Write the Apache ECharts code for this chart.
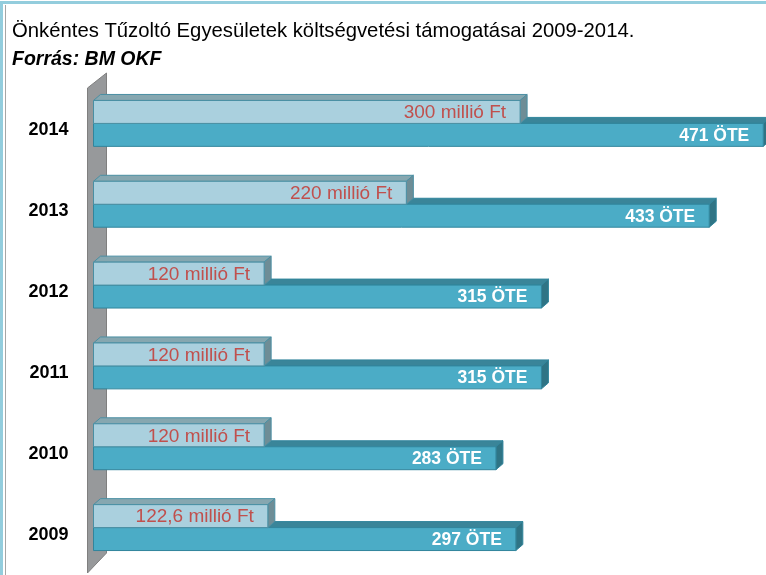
<!DOCTYPE html>
<html>
<head>
<meta charset="utf-8">
<script src="https://cdn.jsdelivr.net/npm/echarts@6/dist/echarts.min.js"></script>
<style>
  html, body { margin: 0; padding: 0; background: #fff; }
  #chart { width: 766px; height: 575px; }
</style>
</head>
<body>
<div id="chart"></div>
<script>
// évek (alulról felfelé)
const years = ['2009', '2010', '2011', '2012', '2013', '2014'];
// ÖTE-k száma
const oteCounts = [297, 283, 315, 315, 433, 471];
// támogatás, millió Ft
const supportMillions = [122.6, 120, 120, 120, 220, 300];

const FONT = "'Liberation Sans', Arial, sans-serif";

// 3D-s hasáb rajzolása (elülső lap + tető + oldal)
function makeBarRenderer(kind) {
    const st = kind === 'light'
        ? { front: '#aad0de', top: '#86a7b0', side: '#6e8d96', stroke: '#4a8fa3',
            color: '#c0504d', weight: 'normal', size: 19 }
        : { front: '#4bacc6', top: '#3a8599', side: '#2f7485', stroke: '#31859c',
            color: '#ffffff', weight: 'bold', size: 17.5 };
    return function (params, api) {
        const val = api.value(0);
        const cat = api.value(1);
        const end = api.coord([val, cat]);
        const start = api.coord([0, cat]);
        const band = api.size([0, 1])[1];
        const h = band * 0.284;
        const dx = 7, dy = 6;
        const x0 = start[0], x1 = end[0];
        const y0 = kind === 'light' ? end[1] - h : end[1];
        const label = kind === 'light'
            ? String(val).replace('.', ',') + ' millió Ft'
            : val + ' ÖTE';
        return {
            type: 'group',
            children: [
                {
                    type: 'polygon',
                    shape: { points: [[x0, y0], [x0 + dx, y0 - dy], [x1 + dx, y0 - dy], [x1, y0]] },
                    style: { fill: st.top, stroke: st.stroke, lineWidth: 1 }
                },
                {
                    type: 'polygon',
                    shape: { points: [[x1, y0], [x1 + dx, y0 - dy], [x1 + dx, y0 + h - dy], [x1, y0 + h]] },
                    style: { fill: st.side, stroke: st.stroke, lineWidth: 1 }
                },
                {
                    type: 'rect',
                    shape: { x: x0, y: y0, width: x1 - x0, height: h },
                    style: { fill: st.front, stroke: st.stroke, lineWidth: 1 }
                },
                {
                    type: 'text',
                    style: {
                        x: x1 - 14,
                        y: y0 + h / 2 + 1,
                        text: label,
                        align: 'right',
                        verticalAlign: 'middle',
                        fill: st.color,
                        fontFamily: FONT,
                        fontSize: st.size,
                        fontWeight: st.weight
                    }
                }
            ]
        };
    };
}

// szürke fal a tengely mögött
function renderWall(params, api) {
    const cs = params.coordSys;
    const ox = api.coord([0, 0])[0];
    const l = ox - 6, r = ox + 13;
    const top = cs.y, bottom = cs.y + cs.height;
    return {
        type: 'polygon',
        shape: { points: [[l, top + 5], [r, top - 10], [r, bottom - 15], [l, bottom + 5]] },
        style: { fill: '#97999b', stroke: '#7f7f7f', lineWidth: 1 }
    };
}

const chart = echarts.init(document.getElementById('chart'));

const option = {
    animation: false,
    backgroundColor: '#ffffff',
    title: [
        {
            text: 'Önkéntes Tűzoltó Egyesületek költségvetési támogatásai 2009-2014.',
            left: 7,
            top: 16,
            textStyle: { fontFamily: FONT, fontSize: 20.3, fontWeight: 'normal', color: '#000' }
        },
        {
            text: 'Forrás: BM OKF',
            left: 7,
            top: 45,
            textStyle: { fontFamily: FONT, fontSize: 19.5, fontWeight: 'bold', fontStyle: 'italic', color: '#000' }
        }
    ],
    graphic: [
        {
            type: 'rect',
            shape: { x: 1.5, y: 2.5, width: 900, height: 900 },
            style: { fill: 'none', stroke: '#93cddd', lineWidth: 3 },
            silent: true
        },
        {
            type: 'line',
            shape: { x1: 5.5, y1: 5, x2: 5.5, y2: 575 },
            style: { stroke: '#a6a6a6', lineWidth: 1 },
            silent: true
        }
    ],
    grid: {
        left: 93.5,
        top: 83,
        width: 711,
        height: 485,
        outerBoundsMode: 'none'
    },
    xAxis: {
        type: 'value',
        min: 0,
        max: 500,
        show: false
    },
    yAxis: {
        type: 'category',
        data: years,
        axisLine: { show: false },
        axisTick: { show: false },
        splitLine: { show: false },
        axisLabel: {
            margin: 25,
            fontFamily: FONT,
            fontSize: 18,
            fontWeight: 'bold',
            color: '#000',
            verticalAlign: 'top',
            lineHeight: 14
        }
    },
    series: [
        {
            type: 'custom',
            name: 'fal',
            silent: true,
            renderItem: renderWall,
            data: [[0, 0]],
            encode: { x: 0, y: 1 },
            z: 1
        },
        {
            type: 'custom',
            name: 'ÖTE',
            renderItem: makeBarRenderer('dark'),
            data: oteCounts.map((v, i) => [v, i]),
            encode: { x: 0, y: 1 },
            z: 2
        },
        {
            type: 'custom',
            name: 'millió Ft',
            renderItem: makeBarRenderer('light'),
            data: supportMillions.map((v, i) => [v, i]),
            encode: { x: 0, y: 1 },
            z: 3
        }
    ]
};

chart.setOption(option);
</script>
</body>
</html>
